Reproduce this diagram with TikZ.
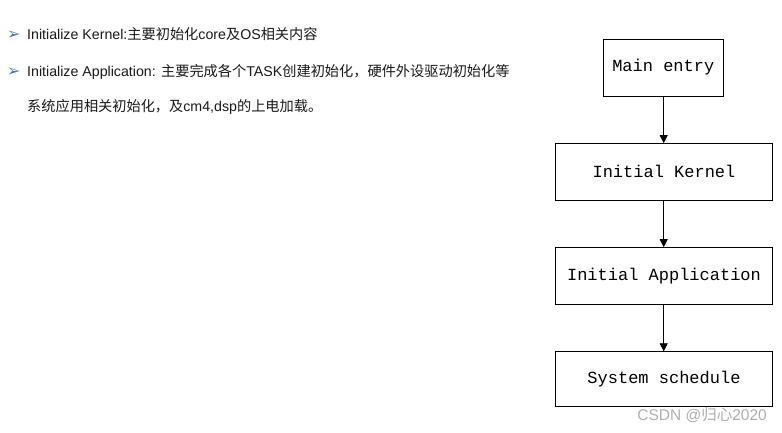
\documentclass[tikz,border=0pt]{standalone}
\usepackage{fontspec}
\setmainfont{Liberation Sans}
\newfontfamily\cjk{Noto Sans CJK SC}
\newfontfamily\monof{Liberation Mono}
\newfontfamily\symf{DejaVu Sans}
\usetikzlibrary{arrows.meta}
\definecolor{bulletblue}{RGB}{70,120,200}
\definecolor{txt}{RGB}{25,25,25}
\definecolor{wmark}{RGB}{175,175,175}
\begin{document}
\begin{tikzpicture}[x=1pt,y=-1pt,
  flowbox/.style={draw=black,line width=0.8pt,minimum width=216.6pt,minimum height=56.5pt,inner sep=0pt,font=\monof\fontsize{17}{20}\selectfont},
  flowarrow/.style={line width=0.8pt,-{Triangle[width=8pt,length=8pt]}},
  desc/.style={anchor=base west,inner sep=0pt,text=txt,font=\fontsize{14.2}{16}\selectfont},
  bulletmark/.style={anchor=base west,inner sep=0pt,text=bulletblue,font=\symf\fontsize{16}{18}\selectfont}]
\useasboundingbox[fill=white] (0,0) rectangle (782,433);
% left text
\node[bulletmark] (b1) at (7,40) {➢};
\node[desc] (t1) at (27,40) {Initialize Kernel:{\cjk 主要初始化}core{\cjk 及}OS{\cjk 相关内容}};
\node[bulletmark] (b2) at (7,77) {➢};
\node[desc] (t2) at (27,77) {Initialize Application: {\cjk 主要完成各个}TASK{\cjk 创建初始化，硬件外设驱动初始化等}};
\node[desc] (t3) at (27,112) {{\cjk 系统应用相关初始化，及}cm4,dsp{\cjk 的上电加载。}};
% flow chart
\node[flowbox,minimum width=120pt,minimum height=57pt] (main) at (663.3,67.6) {Main entry};
\node[flowbox] (kernel) at (664,171.7) {Initial Kernel};
\node[flowbox] (app) at (664,275.7) {Initial Application};
\node[flowbox,minimum height=55pt] (sched) at (664,379.2) {System schedule};
\draw[flowarrow] (main.south -| 663.7,0) -- (kernel.north -| 663.7,0);
\draw[flowarrow] (kernel.south -| 663.7,0) -- (app.north -| 663.7,0);
\draw[flowarrow] (app.south -| 663.7,0) -- (sched.north -| 663.7,0);
% watermark
\node[anchor=base east,inner sep=0pt,text=wmark,font=\fontsize{15.5}{18}\selectfont] (wm) at (767,420) {CSDN @{\cjk 归心}2020};
\end{tikzpicture}
\end{document}
